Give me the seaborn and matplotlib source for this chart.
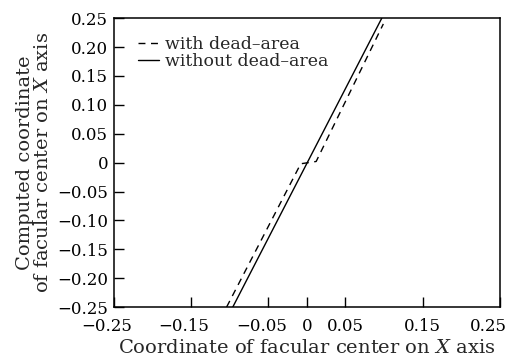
import numpy as np
import pandas as pd
import matplotlib
matplotlib.use("Agg")
import matplotlib.pyplot as plt
import matplotlib.transforms as mtrans
import seaborn as sns

# Data
with_x = [-0.104, -0.008, 0.012, 0.099]
with_y = [-0.25, -0.002, 0.002, 0.24]
without_x = [-0.096, 0.097]
without_y = [-0.25, 0.25]
xticks = [-0.25, -0.15, -0.05, 0, 0.05, 0.15, 0.25]
xticklabels = ["\u22120.25", "\u22120.15", "\u22120.05", "0", "0.05", "0.15", "0.25"]
yticks = [0.25, 0.20, 0.15, 0.10, 0.05, 0, -0.05, -0.10, -0.15, -0.20, -0.25]
yticklabels = ["0.25", "0.20", "0.15", "0.10", "0.05", "0", "\u22120.05", "\u22120.10",
               "\u22120.15", "\u22120.20", "\u22120.25"]

sns.set_style("ticks")
plt.rcParams["font.family"] = ["DejaVu Serif"]
plt.rcParams["mathtext.fontset"] = "dejavuserif"
plt.rcParams["axes.unicode_minus"] = True

df = pd.concat([
    pd.DataFrame({"x": with_x, "y": with_y, "s": "with dead\u2013area"}),
    pd.DataFrame({"x": without_x, "y": without_y, "s": "without dead\u2013area"}),
])

fig = plt.figure(figsize=(5.06, 3.63), dpi=100)
ax = fig.add_axes([0.225, 0.154, 0.763, 0.796])

sns.lineplot(data=df, x="x", y="y", hue="s", style="s",
             palette=["black", "black"],
             dashes={"with dead\u2013area": (5, 4), "without dead\u2013area": ""},
             linewidth=1.0, sort=False, estimator=None, ax=ax)

ax.set_xlim(-0.25, 0.25)
ax.set_ylim(-0.25, 0.25)
ax.set_xticks(xticks)
ax.set_xticklabels(xticklabels)
ax.set_yticks(yticks)
ax.set_yticklabels(yticklabels)
ax.tick_params(direction="in", length=7.5, width=1, labelsize=12, colors="black")
ax.tick_params(axis="x", pad=8)
ax.tick_params(axis="y", pad=4)
for sp in ax.spines.values():
    sp.set_linewidth(1.1)
    sp.set_color("black")

# minus signs hang to the left of the tick; last label pulled inside the figure
for lab, v in zip(ax.get_xticklabels(), xticks):
    dx = 0
    if v < 0:
        dx = -5
    elif v == 0.25:
        dx = -8
    if dx:
        lab.set_transform(lab.get_transform() +
                          mtrans.ScaledTranslation(dx / 72, 0, fig.dpi_scale_trans))

ax.set_xlabel("Coordinate of facular center on $X$ axis", fontsize=14, labelpad=3)
ax.set_ylabel("Computed coordinate\nof facular center on $X$ axis", fontsize=14,
              labelpad=4, linespacing=1.0)

leg = ax.legend(loc="upper left", frameon=False, fontsize=12.5, handlelength=1.25,
                handletextpad=0.3, labelspacing=0.0, borderaxespad=0.2,
                bbox_to_anchor=(0.035, 0.975))

fig.savefig("out.png", dpi=100)
